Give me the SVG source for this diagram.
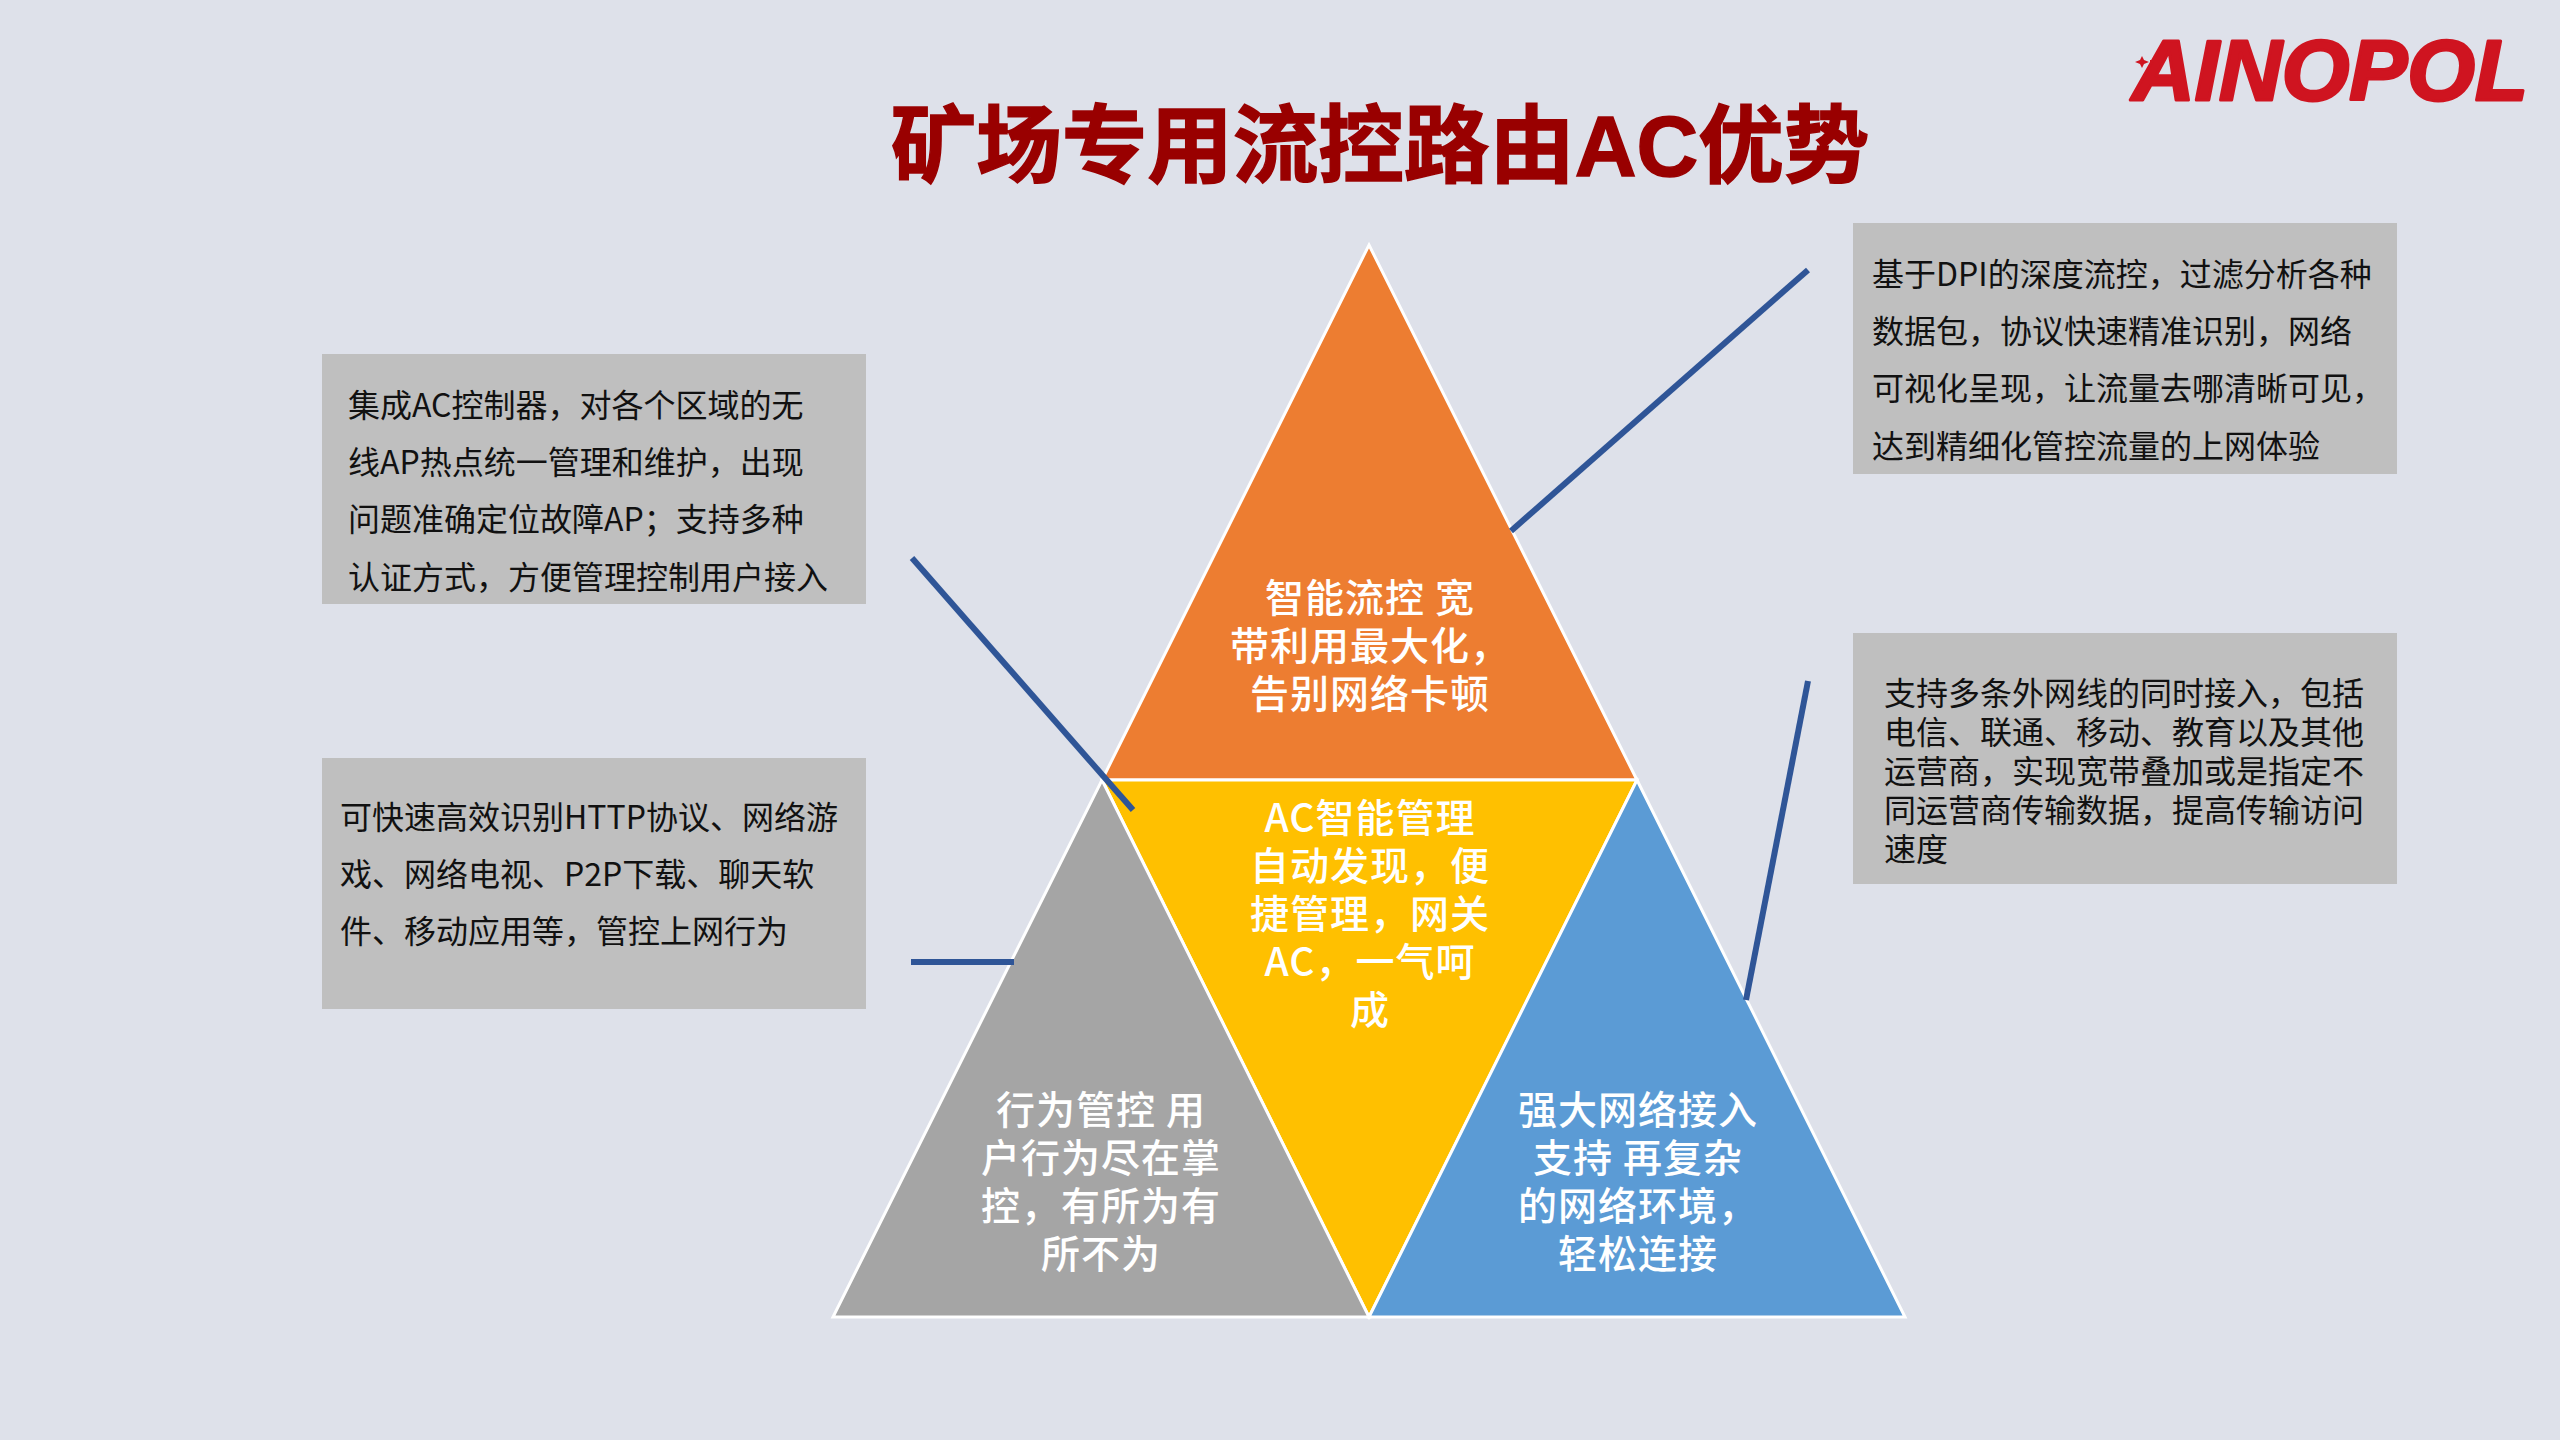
<svg xmlns="http://www.w3.org/2000/svg" width="2560" height="1440" viewBox="0 0 2560 1440">
<style>
.tri{stroke:#fff;stroke-width:3}
.w{font-size:39px;font-weight:500;fill:#fff;text-anchor:middle;font-family:"Noto Sans CJK SC",sans-serif;letter-spacing:1px}
.d{font-size:32px;fill:#111;font-family:"Noto Sans CJK SC",sans-serif}
.box{fill:#bfbfbf}
.ln{stroke:#2f5597;stroke-width:6;fill:none}
</style>
<rect width="2560" height="1440" fill="#dee1ea"/>
<text x="1380" y="176" font-family="'Liberation Sans','Noto Sans CJK SC',sans-serif" font-size="85.5" font-weight="700" fill="#990000" stroke="#990000" stroke-width="1.5" text-anchor="middle">矿场专用流控路由AC优势</text>
<g id="logo">
<text x="2330" y="100" font-family="'Liberation Sans',sans-serif" font-size="86" font-weight="700" font-style="italic" fill="#cf1420" stroke="#cf1420" stroke-width="3" stroke-linejoin="round" text-anchor="middle" textLength="396" lengthAdjust="spacingAndGlyphs">AINOPOL</text>
<polygon fill="#cf1420" points="2142,56 2144,60 2149,62 2144,64 2142,68 2140,64 2135,62 2140,60"/>
<path d="M2150 61H2165" stroke="#cf1420" stroke-width="2"/>
</g>
<g id="tri-top"><polygon class="tri" fill="#ed7d31" points="1369,245 1637,780 1102,780"/>
<text class="w"><tspan x="1370" y="612">智能流控 宽</tspan><tspan x="1370" y="660">带利用最大化，</tspan><tspan x="1370" y="708">告别网络卡顿</tspan></text></g>
<g id="tri-center"><polygon class="tri" fill="#ffc000" points="1102,780 1637,780 1369,1317"/>
<text class="w"><tspan x="1370" y="832">AC智能管理</tspan><tspan x="1370" y="880">自动发现，便</tspan><tspan x="1370" y="928">捷管理，网关</tspan><tspan x="1370" y="976">AC，一气呵</tspan><tspan x="1370" y="1024">成</tspan></text></g>
<g id="tri-left"><polygon class="tri" fill="#a5a5a5" points="1102,780 1369,1317 833,1317"/>
<text class="w"><tspan x="1101" y="1124">行为管控 用</tspan><tspan x="1101" y="1172">户行为尽在掌</tspan><tspan x="1101" y="1220">控，有所为有</tspan><tspan x="1101" y="1268">所不为</tspan></text></g>
<g id="tri-right"><polygon class="tri" fill="#5b9bd5" points="1637,780 1905,1317 1369,1317"/>
<text class="w"><tspan x="1638" y="1124">强大网络接入</tspan><tspan x="1638" y="1172">支持 再复杂</tspan><tspan x="1638" y="1220">的网络环境，</tspan><tspan x="1638" y="1268">轻松连接</tspan></text></g>
<g id="connectors">
<line class="ln" x1="912" y1="558" x2="1133" y2="810"/>
<line class="ln" x1="911" y1="962" x2="1014" y2="962"/>
<line class="ln" x1="1808" y1="270" x2="1511" y2="531"/>
<line class="ln" x1="1808" y1="681" x2="1746" y2="1000"/>
</g>
<g id="box-tl"><rect class="box" x="322" y="354" width="544" height="250"/>
<text class="d"><tspan x="348" y="417">集成AC控制器，对各个区域的无</tspan><tspan x="348" y="474">线AP热点统一管理和维护，出现</tspan><tspan x="348" y="531">问题准确定位故障AP；支持多种</tspan><tspan x="348" y="589">认证方式，方便管理控制用户接入</tspan></text></g>
<g id="box-bl"><rect class="box" x="322" y="758" width="544" height="251"/>
<text class="d"><tspan x="340" y="829">可快速高效识别HTTP协议、网络游</tspan><tspan x="340" y="886">戏、网络电视、P2P下载、聊天软</tspan><tspan x="340" y="943">件、移动应用等，管控上网行为</tspan></text></g>
<g id="box-tr"><rect class="box" x="1853" y="223" width="544" height="251"/>
<text class="d"><tspan x="1872" y="286">基于DPI的深度流控，过滤分析各种</tspan><tspan x="1872" y="343">数据包，协议快速精准识别，网络</tspan><tspan x="1872" y="400">可视化呈现，让流量去哪清晰可见，</tspan><tspan x="1872" y="458">达到精细化管控流量的上网体验</tspan></text></g>
<g id="box-br"><rect class="box" x="1853" y="633" width="544" height="251"/>
<text class="d"><tspan x="1884" y="705">支持多条外网线的同时接入，包括</tspan><tspan x="1884" y="744">电信、联通、移动、教育以及其他</tspan><tspan x="1884" y="783">运营商，实现宽带叠加或是指定不</tspan><tspan x="1884" y="822">同运营商传输数据，提高传输访问</tspan><tspan x="1884" y="861">速度</tspan></text></g>
</svg>
